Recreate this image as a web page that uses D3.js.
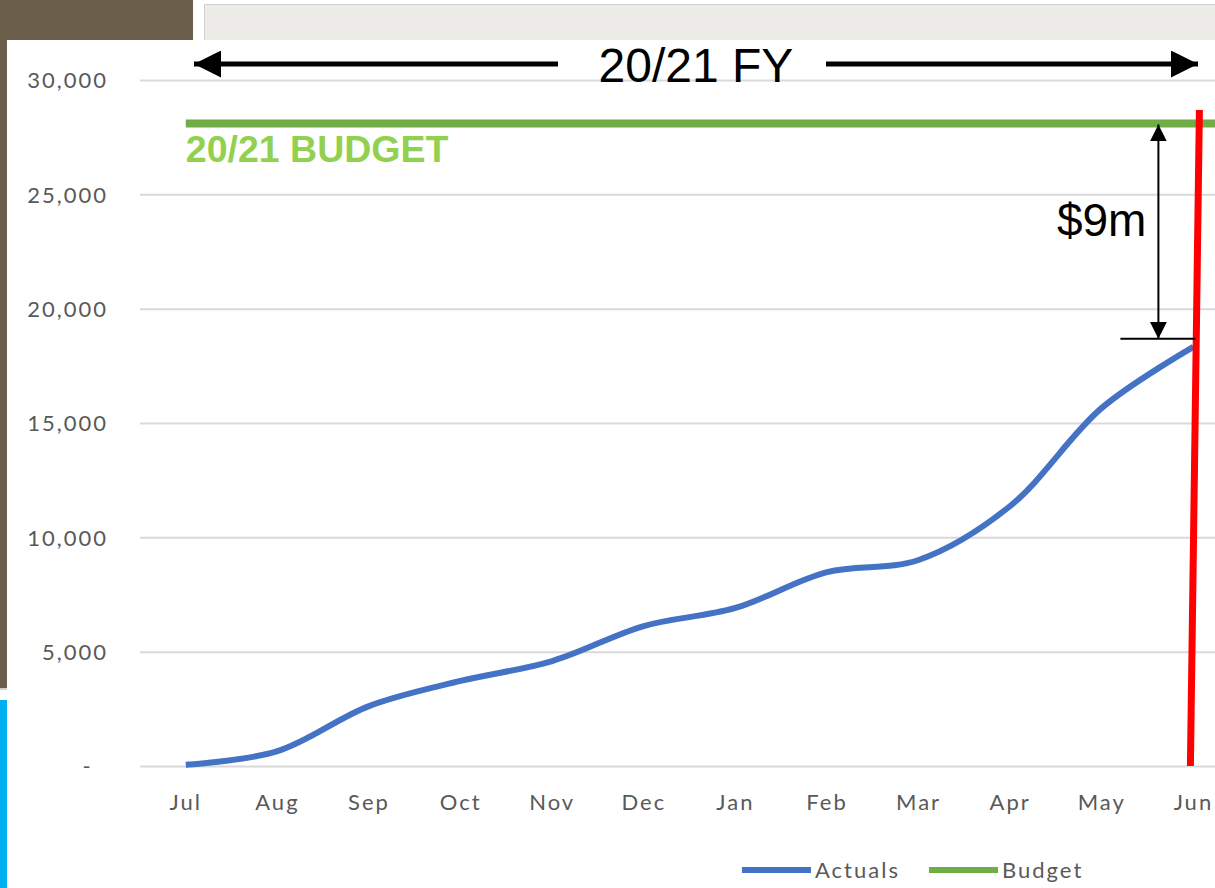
<!DOCTYPE html>
<html>
<head>
<meta charset="utf-8">
<script src="https://cdn.jsdelivr.net/npm/d3@7"></script>
<style>
  body { margin: 0; background: #fff; }
  svg { display: block; }
  .tick text { font-family: Lato, "Open Sans", sans-serif; font-size: 22px; fill: #595959; letter-spacing: 2px; }
</style>
</head>
<body>
<div id="chart"></div>
<script>
// chart values
const months = ['Jul', 'Aug', 'Sep', 'Oct', 'Nov', 'Dec', 'Jan', 'Feb', 'Mar', 'Apr', 'May', 'Jun'];
const actuals = [50, 650, 2620, 3720, 4590, 6120, 6910, 8480, 9010, 11370, 15660, 18330];
const budget = [28100, 28100, 28100, 28100, 28100, 28100, 28100, 28100, 28100, 28100, 28100, 28100];
const yTicks = [0, 5000, 10000, 15000, 20000, 25000, 30000];
const legendItems = [{ name: 'Actuals', color: '#4472C4' }, { name: 'Budget', color: '#70AD47' }];

const W = 1215, H = 888;
const svg = d3.select('#chart').append('svg').attr('width', W).attr('height', H);

// slide frame bits around the pasted chart
svg.append('rect').attr('x', 0).attr('y', 0).attr('width', 193).attr('height', 40).attr('fill', '#6B5E4A');
svg.append('rect').attr('x', 204.5).attr('y', 4.5).attr('width', 1015).attr('height', 36)
  .attr('fill', '#ECEBE7').attr('stroke', '#d0d0d0');
svg.append('rect').attr('x', 7).attr('y', 40).attr('width', W).attr('height', H).attr('fill', '#fff');
svg.append('rect').attr('x', 0).attr('y', 40).attr('width', 7).attr('height', 648).attr('fill', '#6B5E4A');
svg.append('rect').attr('x', 0).attr('y', 688).attr('width', 7).attr('height', 2).attr('fill', '#cfcfcf');
svg.append('rect').attr('x', 0).attr('y', 700).attr('width', 7).attr('height', 188).attr('fill', '#00B0F0');

const left = 140, step = 91.6;
const x = d3.scaleBand().domain(months).range([left, left + step * months.length]);
const cx = d => x(d) + x.bandwidth() / 2;
const y = d3.scaleLinear().domain([0, 30000]).range([766, 80]);

// gridlines + y labels
const yAxis = svg.append('g')
  .attr('transform', `translate(${left},0)`)
  .call(d3.axisLeft(y).tickValues(yTicks).tickSize(-(W - left))
    .tickFormat(d => d === 0 ? '-\u00a0\u00a0' : d3.format(',')(d)));
yAxis.select('.domain').remove();
yAxis.selectAll('line').attr('stroke', '#d9d9d9').attr('stroke-width', 2);
yAxis.selectAll('text').attr('x', -32).attr('dy', '0.36em');

// x labels
const xAxis = svg.append('g')
  .attr('transform', `translate(0,${y(0)})`)
  .call(d3.axisBottom(x).tickSize(0).tickPadding(28));
xAxis.select('.domain').remove();

// budget series (runs on past the last category, as in the source)
const budgetPts = months.map((m, i) => [cx(m), y(budget[i])]);
budgetPts.push([x.range()[1], y(budget[budget.length - 1])]);
svg.append('path')
  .attr('d', d3.line()(budgetPts))
  .attr('fill', 'none').attr('stroke', '#70AD47').attr('stroke-width', 8);

svg.append('text')
  .attr('x', cx(months[0])).attr('y', 162)
  .attr('font-family', '"Liberation Sans", Arial, sans-serif')
  .attr('font-weight', 'bold').attr('font-size', 37.5)
  .attr('fill', '#92D050')
  .text('20/21 BUDGET');

// actuals series
svg.append('path')
  .datum(actuals)
  .attr('d', d3.line().x((d, i) => cx(months[i])).y(d => y(d)).curve(d3.curveCatmullRom.alpha(0.5)))
  .attr('fill', 'none').attr('stroke', '#4472C4').attr('stroke-width', 6)
  .attr('stroke-linejoin', 'round');

// red "today" marker
const jun = cx(months[months.length - 1]);
svg.append('line')
  .attr('x1', jun + 6).attr('y1', 110).attr('x2', jun - 3).attr('y2', y(0))
  .attr('stroke', '#FF0000').attr('stroke-width', 7);

// gap annotation
const defs = svg.append('defs');
defs.append('marker').attr('id', 'head').attr('viewBox', '0 0 10 10')
  .attr('refX', 10).attr('refY', 5).attr('markerWidth', 17).attr('markerHeight', 17)
  .attr('markerUnits', 'userSpaceOnUse').attr('orient', 'auto-start-reverse')
  .append('path').attr('d', 'M0,0L10,5L0,10Z').attr('fill', '#000');

const gapX = jun - 35;
const yBud = y(budget[budget.length - 1]);
const yAct = y(actuals[actuals.length - 1]) - 8;
svg.append('line')
  .attr('x1', gapX).attr('y1', yBud + 1).attr('x2', gapX).attr('y2', yAct)
  .attr('stroke', '#000').attr('stroke-width', 2)
  .attr('marker-start', 'url(#head)').attr('marker-end', 'url(#head)');
svg.append('line')
  .attr('x1', gapX - 38).attr('y1', yAct).attr('x2', jun + 2).attr('y2', yAct)
  .attr('stroke', '#000').attr('stroke-width', 2);
svg.append('text')
  .attr('x', gapX - 12).attr('y', 236).attr('text-anchor', 'end')
  .attr('font-family', '"Liberation Sans", Arial, sans-serif').attr('font-size', 46)
  .text('$9m');

// FY span arrows
const fyY = 64;
defs.append('marker').attr('id', 'bighead').attr('viewBox', '0 0 10 10')
  .attr('refX', 10).attr('refY', 5).attr('markerWidth', 27).attr('markerHeight', 27)
  .attr('markerUnits', 'userSpaceOnUse').attr('orient', 'auto')
  .append('path').attr('d', 'M0,0L10,5L0,10Z').attr('fill', '#000');
svg.append('line')
  .attr('x1', 558).attr('y1', fyY).attr('x2', 194).attr('y2', fyY)
  .attr('stroke', '#000').attr('stroke-width', 5).attr('marker-end', 'url(#bighead)');
svg.append('line')
  .attr('x1', 826).attr('y1', fyY).attr('x2', 1198).attr('y2', fyY)
  .attr('stroke', '#000').attr('stroke-width', 5).attr('marker-end', 'url(#bighead)');
svg.append('text')
  .attr('x', 696).attr('y', 82).attr('text-anchor', 'middle')
  .attr('font-family', '"Liberation Sans", Arial, sans-serif').attr('font-size', 48)
  .text('20/21 FY');

// legend
const lg = svg.append('g').attr('transform', 'translate(742,870)');
let lx = 0;
legendItems.forEach(it => {
  lg.append('line').attr('x1', lx).attr('x2', lx + 69).attr('y1', 0).attr('y2', 0)
    .attr('stroke', it.color).attr('stroke-width', 6);
  lg.append('text').attr('x', lx + 73).attr('y', 8)
    .attr('font-family', 'Lato, "Open Sans", sans-serif').attr('font-size', 22)
    .attr('letter-spacing', 2).attr('fill', '#595959').text(it.name);
  lx += 187;
});
</script>
</body>
</html>
